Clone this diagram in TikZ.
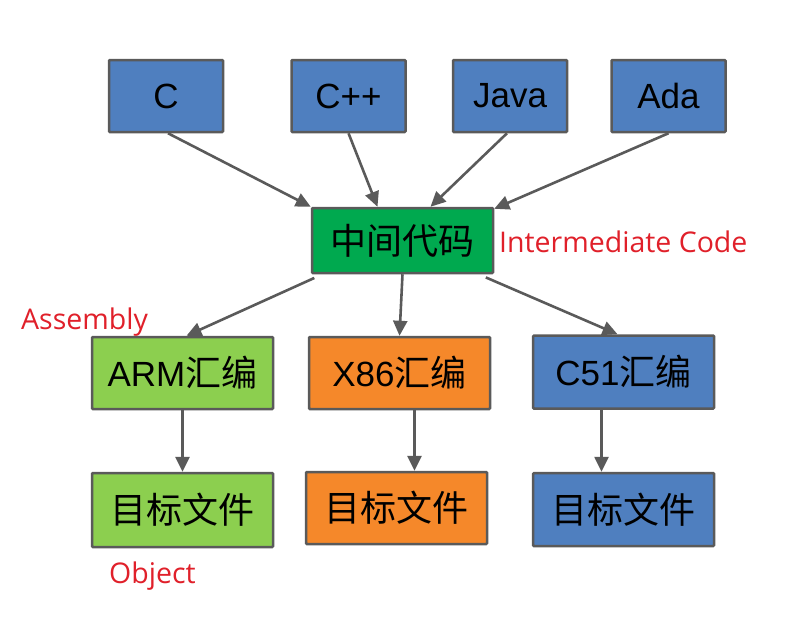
\documentclass[tikz,border=0pt]{standalone}
\usepackage{fontspec}
\setmainfont{Liberation Sans}
\newfontfamily\cjk{Noto Sans CJK SC}
\newfontfamily\note{Open Sans}
\usetikzlibrary{arrows.meta}
\definecolor{langblue}{HTML}{4F7FBF}
\definecolor{midgreen}{HTML}{00A94F}
\definecolor{armgreen}{HTML}{8CCF4F}
\definecolor{xorange}{HTML}{F5882A}
\definecolor{edgegray}{HTML}{5A5A5A}
\definecolor{notered}{HTML}{E0202A}
\tikzset{
  box/.style={draw=edgegray, line width=2.5pt, rounded corners=1pt, inner sep=0pt,
    minimum width=181pt, minimum height=72pt, font=\fontsize{35}{35}\selectfont},
  langbox/.style={box, fill=langblue, minimum width=114pt},
  flow/.style={draw=edgegray, line width=2.6pt, -{Triangle[length=15pt,width=14pt]}},
  note/.style={text=notered, inner sep=0pt, font=\note\fontsize{28.5}{28.5}\selectfont}
}
\newcommand{\zh}[1]{{\cjk\fontsize{36}{36}\selectfont #1}}
\begin{document}
\begin{tikzpicture}[x=1pt,y=-1pt]
  \useasboundingbox (0,0) rectangle (810,638);

  \node[langbox] (c) at (166,96) {C};
  \node[langbox] (cpp) at (348.5,96) {C++};
  \node[langbox] (java) at (510,96) {Java};
  \node[langbox] (ada) at (668.5,96) {Ada};

  \node[box, fill=midgreen, minimum height=65pt] (mid) at (402.5,240.5) {\zh{中间代码}};
  \node[note, anchor=west] (midnote) at (499,242) {Intermediate Code};

  \node[box, fill=armgreen] (arm) at (182.5,373) {ARM\zh{汇编}};
  \node[box, fill=xorange] (x86) at (399.5,373) {X86\zh{汇编}};
  \node[box, fill=langblue, minimum height=73pt] (c51) at (623.5,372) {C51\zh{汇编}};
  \node[note, anchor=west] (asmnote) at (21,322) {Assembly};

  \node[box, fill=armgreen, minimum height=74pt] (armobj) at (182.5,510) {\zh{目标文件}};
  \node[box, fill=xorange] (x86obj) at (396.5,508) {\zh{目标文件}};
  \node[box, fill=langblue, minimum height=73pt] (c51obj) at (623.5,509.5) {\zh{目标文件}};
  \node[note, anchor=west] (objnote) at (109,576) {Object};

  \draw[flow] ([xshift=2pt]c.south) -- (mid.north west);
  \draw[flow] (cpp.south) -- ([xshift=-25pt]mid.north);
  \draw[flow] ([xshift=-3pt]java.south) -- ([xshift=28pt]mid.north);
  \draw[flow] (ada.south) -- ([yshift=-2pt]mid.north east);

  \draw[flow, shorten <=9pt] ([xshift=-80pt]mid.south) -- ([xshift=4pt]arm.north);
  \draw[flow] (mid.south) -- (x86.north);
  \draw[flow, shorten <=8pt] ([xshift=76pt]mid.south) -- ([xshift=-6pt]c51.north);

  \draw[flow] (arm.south) -- (armobj.north -| arm.south);
  \draw[flow] ([xshift=15pt]x86.south) -- ([xshift=15pt]x86.south |- x86obj.north);
  \draw[flow] ([xshift=-22pt]c51.south) -- ([xshift=-22pt]c51.south |- c51obj.north);
\end{tikzpicture}
\end{document}
